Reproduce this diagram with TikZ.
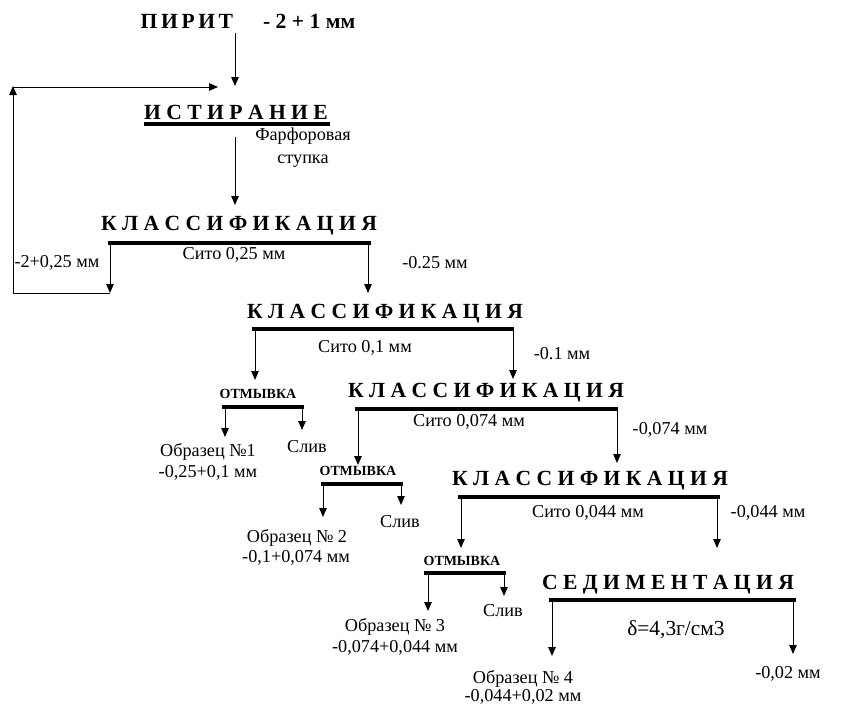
\documentclass[tikz,border=0pt]{standalone}
\usepackage{fontspec}
\setmainfont{Liberation Serif}
\usetikzlibrary{arrows.meta}
\tikzset{
  head/.style={anchor=base, inner sep=0, font=\bfseries\fontsize{21.6}{22}\selectfont},
  wash/.style={anchor=base, inner sep=0, font=\bfseries\fontsize{14}{14}\selectfont},
  lab/.style={anchor=base, inner sep=0, font=\fontsize{18.2}{20}\selectfont},
  bar/.style={line width=4.5pt},
  sbar/.style={line width=4pt},
  arr/.style={-{Triangle[length=9pt,width=7.5pt]}, line width=0.9pt},
  feed/.style={line width=0.9pt},
}
\begin{document}
\begin{tikzpicture}[x=1pt,y=-1pt]
\useasboundingbox (0,0) rectangle (841,704);
% --- titles
\node[head] (pirit) at (248,28) {П\,И\,Р\,И\,Т\hspace{30pt}- 2 + 1 мм};
\node[head] (ist) at (236,119) {И С Т И Р А Н И Е};
\node[lab] (farf1) at (303,140) {Фарфоровая};
\node[lab] (farf2) at (303,163) {ступка};
\node[head] (k1) at (239,230) {К Л А С С И Ф И К А Ц И Я};
\node[lab] (s1) at (234,259) {Сито 0,25 мм};
\node[lab] (l1a) at (57,267) {-2+0,25 мм};
\node[lab] (l1b) at (435,268) {-0.25 мм};
\node[head] (k2) at (385,318) {К Л А С С И Ф И К А Ц И Я};
\node[lab] (s2) at (365,352) {Сито 0,1 мм};
\node[lab] (l2b) at (562,359) {-0.1 мм};
\node[wash] (o1) at (258,398) {ОТМЫВКА};
\node[lab] (obr1a) at (208,456) {Образец №1};
\node[lab] (obr1b) at (208,477) {-0,25+0,1 мм};
\node[lab] (sl1) at (307,452) {Слив};
\node[head] (k3) at (486,397) {К Л А С С И Ф И К А Ц И Я};
\node[lab] (s3) at (469,426) {Сито 0,074 мм};
\node[lab] (l3b) at (670,434) {-0,074 мм};
\node[wash] (o2) at (358,475) {ОТМЫВКА};
\node[lab] (obr2a) at (297,542) {Образец № 2};
\node[lab] (obr2b) at (296,562) {-0,1+0,074 мм};
\node[lab] (sl2) at (400,527) {Слив};
\node[head] (k4) at (590,485) {К Л А С С И Ф И К А Ц И Я};
\node[lab] (s4) at (588,517) {Сито 0,044 мм};
\node[lab] (l4b) at (768,517) {-0,044 мм};
\node[wash] (o3) at (462,565) {ОТМЫВКА};
\node[lab] (obr3a) at (395,631) {Образец № 3};
\node[lab] (obr3b) at (395,652) {-0,074+0,044 мм};
\node[lab] (sl3) at (503,616) {Слив};
\node[head] (sed) at (668,589) {С Е Д И М Е Н Т А Ц И Я};
\node[anchor=base, inner sep=0, font=\fontsize{21.4}{22}\selectfont] (dens) at (676,635) {δ=4,3г/см3};
\node[lab] (obr4a) at (523,683) {Образец № 4};
\node[lab] (obr4b) at (523,701) {-0,044+0,02 мм};
\node[lab] (l5b) at (788,678) {-0,02 мм};
% --- bar end points
\coordinate (istL) at (144,124); \coordinate (istR) at (330,124);
\coordinate (k1L) at (108,243); \coordinate (k1R) at (371,243);
\coordinate (k2L) at (252,329); \coordinate (k2R) at (514,329);
\coordinate (o1L) at (222,407); \coordinate (o1R) at (304,407);
\coordinate (k3L) at (355,409); \coordinate (k3R) at (618,409);
\coordinate (o2L) at (321,484); \coordinate (o2R) at (403,484);
\coordinate (k4L) at (458,497); \coordinate (k4R) at (720,497);
\coordinate (o3L) at (424,573); \coordinate (o3R) at (506,573);
\coordinate (sedL) at (549,600); \coordinate (sedR) at (796,600);
% bars
\draw[bar] (istL) -- (istR);
\draw[bar] (k1L) -- (k1R);
\draw[bar] (k2L) -- (k2R);
\draw[sbar] (o1L) -- (o1R);
\draw[bar] (k3L) -- (k3R);
\draw[sbar] (o2L) -- (o2R);
\draw[bar] (k4L) -- (k4R);
\draw[sbar] (o3L) -- (o3R);
\draw[bar] (sedL) -- (sedR);
% arrow start/end coordinates
\coordinate (a0s) at (235,33);  \coordinate (a0e) at (235,86);
\coordinate (a1s) at (235,137); \coordinate (a1e) at (235,205);
\coordinate (fb0) at (110,243); \coordinate (fb1) at (110,293);
\coordinate (fb2) at (13,293);  \coordinate (fb3) at (13,86);
\coordinate (fb4) at (13,87);   \coordinate (fb5) at (218,87);
\coordinate (b1s) at (368,243); \coordinate (b1e) at (368,293);
\coordinate (c1s) at (255,329); \coordinate (c1e) at (255,380);
\coordinate (c2s) at (513,329); \coordinate (c2e) at (513,379);
\coordinate (d1s) at (225,407); \coordinate (d1e) at (225,437);
\coordinate (d2s) at (302,407); \coordinate (d2e) at (302,430);
\coordinate (e1s) at (358,409); \coordinate (e1e) at (358,465);
\coordinate (e2s) at (617,409); \coordinate (e2e) at (617,463);
\coordinate (f1s) at (323,484); \coordinate (f1e) at (323,517);
\coordinate (f2s) at (401,484); \coordinate (f2e) at (401,505);
\coordinate (g1s) at (461,497); \coordinate (g1e) at (461,548);
\coordinate (g2s) at (717,497); \coordinate (g2e) at (717,548);
\coordinate (h1s) at (428,573); \coordinate (h1e) at (428,611);
\coordinate (h2s) at (504,573); \coordinate (h2e) at (504,596);
\coordinate (i1s) at (552,600); \coordinate (i1e) at (552,656);
\coordinate (i2s) at (793,600); \coordinate (i2e) at (793,654);
% arrows
\draw[arr] (a0s) -- (a0e);
\draw[arr] (a1s) -- (a1e);
\draw[arr] (fb0) -- (fb1);
\draw[feed] (fb1) -- (fb2);
\draw[arr] (fb2) -- (fb3);
\draw[arr] (fb4) -- (fb5);
\draw[arr] (b1s) -- (b1e);
\draw[arr] (c1s) -- (c1e);
\draw[arr] (c2s) -- (c2e);
\draw[arr] (d1s) -- (d1e);
\draw[arr] (d2s) -- (d2e);
\draw[arr] (e1s) -- (e1e);
\draw[arr] (e2s) -- (e2e);
\draw[arr] (f1s) -- (f1e);
\draw[arr] (f2s) -- (f2e);
\draw[arr] (g1s) -- (g1e);
\draw[arr] (g2s) -- (g2e);
\draw[arr] (h1s) -- (h1e);
\draw[arr] (h2s) -- (h2e);
\draw[arr] (i1s) -- (i1e);
\draw[arr] (i2s) -- (i2e);
\end{tikzpicture}
\end{document}
